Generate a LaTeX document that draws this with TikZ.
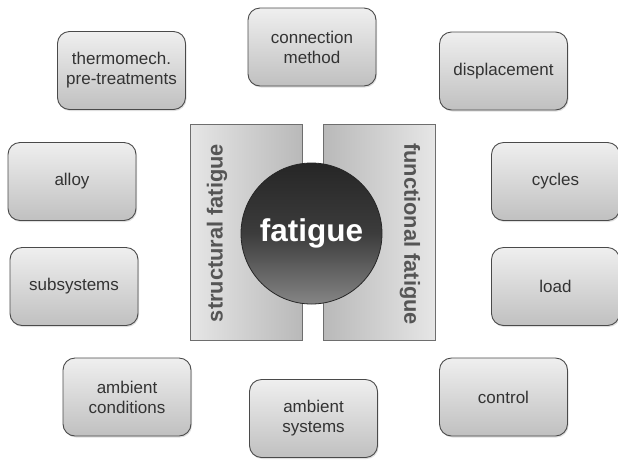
\documentclass[tikz,border=0pt]{standalone}
\usepackage{fontspec}
\setmainfont{Liberation Sans}
\usetikzlibrary{shadows, positioning}
\definecolor{boxtop}{HTML}{EFEFEF}
\definecolor{boxbot}{HTML}{C0C0C0}
\definecolor{boxline}{HTML}{4A4A4A}
\definecolor{paneldark}{HTML}{B9B9B9}
\definecolor{panellight}{HTML}{E6E6E6}
\definecolor{panelline}{HTML}{6E6E6E}
\definecolor{balltop}{HTML}{262626}
\definecolor{ballmid}{HTML}{3C3C3C}
\definecolor{ballbot}{HTML}{858585}
\definecolor{txtgray}{HTML}{333333}
\definecolor{paneltxt}{HTML}{555555}
\tikzset{
  % scatola di un fattore
  factor/.style={draw=boxline, line width=0.9pt, rounded corners=12pt,
    minimum width=128pt, minimum height=78pt, align=center,
    top color=boxtop, bottom color=boxbot, text=txtgray,
    font=\fontsize{17}{20}\selectfont,
    drop shadow={opacity=0.25, shadow xshift=1pt, shadow yshift=-1.5pt}},
  % pannello laterale
  panel/.style={draw=panelline, line width=0.8pt, minimum width=112pt,
    minimum height=216pt, inner sep=0pt},
  paneltext/.style={font=\fontsize{21.8}{24}\selectfont\bfseries, text=paneltxt},
  % cerchio centrale
  hub/.style={circle, draw=black!85, line width=0.8pt, minimum size=141pt,
    inner sep=0pt, top color=balltop, bottom color=ballbot, middle color=ballmid,
    text=white, font=\fontsize{31.5}{34}\selectfont\bfseries},
}
\begin{document}
\begin{tikzpicture}[x=1pt, y=1pt]
  \useasboundingbox (0,0) rectangle (618,-459);
  % pannelli
  \node[panel, left color=panellight, right color=paneldark] (structural) at (246,-232) {};
  \node[panel, left color=paneldark, right color=panellight] (functional) at (379,-232) {};
  \node[paneltext, rotate=90] (structlbl) at (217,-233) {structural fatigue};
  \node[paneltext, rotate=-90] (funclbl) at (410,-234) {functional fatigue};
  \node[hub] (fatigue) at (311.5,-233.5) {fatigue};
  % fattori
  \node[factor] (thermo) at (121.5,-70.5) {thermomech.\\pre-treatments};
  \node[factor] (connection) at (312,-47) {connection\\method};
  \node[factor] (displacement) at (503.5,-71) {displacement};
  \node[factor] (alloy) at (72,-181.5) {alloy};
  \node[factor] (cycles) at (555.5,-181.5) {cycles};
  \node[factor] (subsystems) at (74,-286.5) {subsystems};
  \node[factor] (load) at (555.5,-286.5) {load};
  \node[factor] (ambcond) at (127,-397) {ambient\\conditions};
  \node[factor] (ambsys) at (313.5,-418.5) {ambient\\systems};
  \node[factor] (control) at (503.5,-397) {control};
\end{tikzpicture}
\end{document}
